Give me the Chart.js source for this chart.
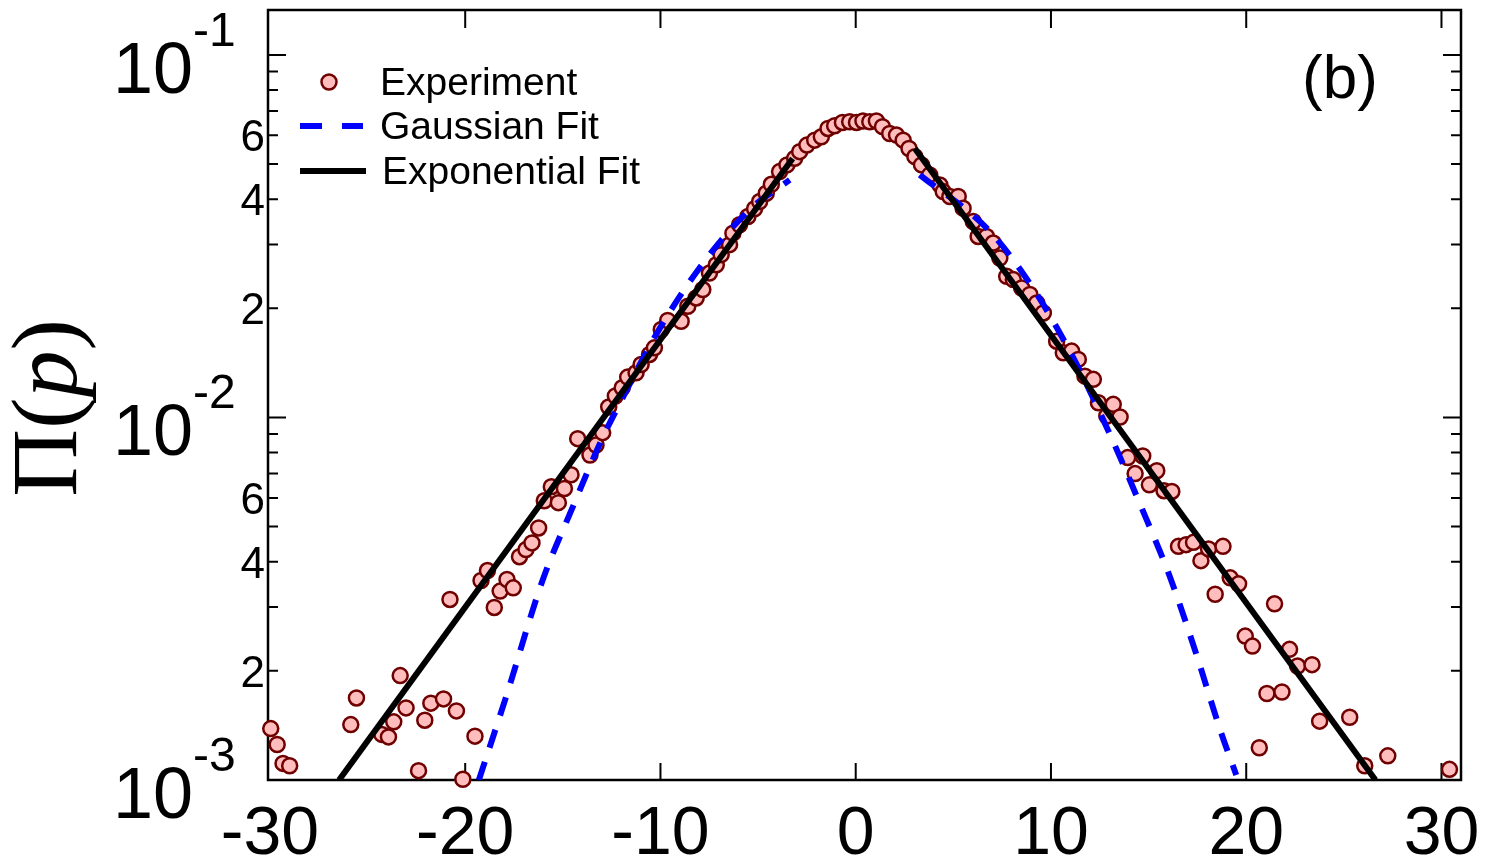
<!DOCTYPE html>
<html><head><meta charset="utf-8">
<script src="https://cdn.jsdelivr.net/npm/chart.js@4.4.1/dist/chart.umd.min.js"></script>
<style>html,body{margin:0;padding:0;background:#fff;} canvas{display:block;}</style>
</head><body>
<canvas id="c" width="1486" height="865" style="width:1486px;height:865px"></canvas>
<script>
// ---- Data ----
const expX = [-29.96,-29.63,-29.33,-28.99,-25.86,-25.57,-24.27,-23.93,-23.66,-23.33,-23.03,-22.39,-22.07,-21.76,-21.11,-20.78,-20.45,-20.12,-19.50,-19.19,-18.86,-18.51,-18.21,-17.86,-17.54,-17.22,-16.89,-16.58,-16.24,-15.95,-15.59,-15.23,-14.92,-14.58,-14.24,-13.61,-13.30,-12.96,-12.65,-12.31,-11.96,-11.68,-11.25,-10.99,-10.56,-10.31,-9.96,-9.63,-8.94,-8.60,-8.17,-7.83,-7.49,-7.14,-6.89,-6.46,-6.29,-5.95,-5.52,-5.18,-4.92,-4.58,-4.32,-3.90,-3.52,-3.13,-2.87,-2.50,-2.10,-1.76,-1.42,-1.08,-0.68,-0.31,0.04,0.37,0.72,1.06,1.37,1.74,2.09,2.43,2.73,3.03,3.37,3.79,4.31,4.48,4.82,5.25,5.50,6.02,6.27,6.70,7.04,7.38,7.73,8.07,8.50,8.92,9.27,9.61,10.29,10.63,11.06,11.40,11.74,12.17,12.43,12.86,13.19,13.54,13.93,14.31,14.70,15.04,15.42,15.79,16.19,16.53,16.92,17.30,17.68,18.07,18.41,18.81,19.18,19.61,19.95,20.32,20.67,21.06,21.45,21.83,22.22,22.63,23.37,23.76,25.30,26.07,27.25,30.41];
const expY = [1.386e-3,1.253e-3,1.111e-3,1.095e-3,1.422e-3,1.684e-3,1.336e-3,1.315e-3,1.447e-3,1.941e-3,1.581e-3,1.061e-3,1.462e-3,1.629e-3,1.674e-3,3.148e-3,1.551e-3,1.005e-3,1.321e-3,3.55e-3,3.782e-3,2.992e-3,3.319e-3,3.573e-3,3.388e-3,4.13e-3,4.32e-3,4.508e-3,4.957e-3,5.893e-3,6.44e-3,5.82e-3,6.37e-3,6.95e-3,8.74e-3,7.88e-3,8.39e-3,9.08e-3,1.069e-2,1.146e-2,1.208e-2,1.292e-2,1.328e-2,1.40e-2,1.492e-2,1.556e-2,1.748e-2,1.851e-2,1.842e-2,2.026e-2,2.136e-2,2.253e-2,2.502e-2,2.638e-2,2.812e-2,2.996e-2,3.224e-2,3.40e-2,3.583e-2,3.763e-2,3.941e-2,4.154e-2,4.396e-2,4.765e-2,4.972e-2,5.184e-2,5.41e-2,5.64e-2,5.82e-2,5.944e-2,6.268e-2,6.377e-2,6.512e-2,6.54e-2,6.512e-2,6.57e-2,6.54e-2,6.57e-2,6.34e-2,6.07e-2,6.01e-2,5.82e-2,5.52e-2,5.24e-2,4.972e-2,4.667e-2,4.38e-2,4.198e-2,4.068e-2,4.068e-2,3.778e-2,3.472e-2,3.157e-2,3.157e-2,3.027e-2,2.752e-2,2.45e-2,2.40e-2,2.275e-2,2.183e-2,2.069e-2,1.942e-2,1.623e-2,1.508e-2,1.524e-2,1.446e-2,1.30e-2,1.274e-2,1.098e-2,1.009e-2,1.087e-2,1.003e-2,7.75e-3,7.0e-3,7.83e-3,6.52e-3,7.13e-3,6.28e-3,6.25e-3,4.41e-3,4.458e-3,4.524e-3,4.028e-3,4.339e-3,3.254e-3,4.41e-3,3.611e-3,3.476e-3,2.494e-3,2.341e-3,1.227e-3,1.732e-3,3.062e-3,1.749e-3,2.293e-3,2.062e-3,2.08e-3,1.453e-3,1.49e-3,1.095e-3,1.166e-3,1.07e-3];

const gaussLX = [-19.30,-17.91,-16.04,-14.50,-12.96,-11.93,-10.22,-8.00,-5.44,-3.38];
const gaussLY = [1.0e-3,1.694e-3,3.55e-3,5.65e-3,8.8e-3,1.134e-2,1.694e-2,2.584e-2,3.74e-2,4.52e-2];
const gaussRX = [3.28,6.87,9.18,11.14,12.94,14.56,16.10,17.38,18.67,19.49];
const gaussRY = [4.667e-2,3.26e-2,2.228e-2,1.461e-2,9.18e-3,5.77e-3,3.624e-3,2.278e-3,1.373e-3,1.032e-3];

const expFitLX = [-26.46,-3.23];
const expFitLY = [1.0e-3,5.18e-2];
const expFitRX = [3.03,26.62];
const expFitRY = [5.52e-2,1.0e-3];

const xTickVals = [-30,-20,-10,0,10,20,30];
const xTickLabels = ['-30','-20','-10','0','10','20','30'];
const yDecades = [-3,-2,-1];
const yMinorLabelVals = [0.002,0.004,0.006,0.02,0.04,0.06];
const yMinorLabelText = ['2','4','6','2','4','6'];
const legendLabels = ['Experiment','Gaussian Fit','Exponential Fit'];
const panelLabel = '(b)';

// ---- Styles ----
const SANS = "'Liberation Sans', Arial, sans-serif";
const SERIF = "'Liberation Serif', 'Times New Roman', serif";
const PT_FILL = '#ffbdbd', PT_EDGE = '#700000';

const toPts = (xs, ys) => xs.map((v, i) => ({x: v, y: ys[i]}));

const decor = {
  id: 'decor',
  beforeDatasetsDraw(chart) {
    const {ctx, chartArea: a, scales: {x, y}} = chart;
    ctx.save();
    ctx.strokeStyle = '#000';
    ctx.lineWidth = 2.5;
    ctx.strokeRect(a.left, a.top, a.right - a.left, a.bottom - a.top);
    ctx.lineWidth = 2;
    ctx.beginPath();
    for (const v of xTickVals) {
      const px = x.getPixelForValue(v);
      if (px <= a.left + 2 || px >= a.right - 2) continue;
      ctx.moveTo(px, a.bottom); ctx.lineTo(px, a.bottom - 17);
      ctx.moveTo(px, a.top); ctx.lineTo(px, a.top + 18);
    }
    for (const d of yDecades) {
      for (let m = 1; m <= 9; m++) {
        const v = m * Math.pow(10, d);
        if (v <= y.min * 1.0001 || v > y.max) continue;
        const py = y.getPixelForValue(v);
        const len = m === 1 ? 18 : 10;
        ctx.moveTo(a.left, py); ctx.lineTo(a.left + len, py);
        ctx.moveTo(a.right, py); ctx.lineTo(a.right - len, py);
      }
    }
    ctx.stroke();
    ctx.restore();
  },
  afterDraw(chart) {
    const {ctx, chartArea: a, scales: {x, y}} = chart;
    ctx.save();
    ctx.fillStyle = '#000';
    // x tick labels
    ctx.font = `68px ${SANS}`;
    ctx.textAlign = 'center';
    ctx.textBaseline = 'alphabetic';
    xTickVals.forEach((v, i) => ctx.fillText(xTickLabels[i], x.getPixelForValue(v), 854));
    // y major labels
    for (const d of yDecades) {
      const py = y.getPixelForValue(Math.pow(10, d));
      ctx.font = `72px ${SANS}`;
      ctx.textAlign = 'right';
      ctx.fillText('10', 193, py + 38);
      ctx.font = `48px ${SANS}`;
      ctx.textAlign = 'left';
      ctx.fillText(String(d), 193, py - 9);
    }
    // y minor labels
    ctx.font = `44px ${SANS}`;
    ctx.textAlign = 'right';
    yMinorLabelVals.forEach((v, i) => ctx.fillText(yMinorLabelText[i], 265, y.getPixelForValue(v) + 16));
    // y title  Π(p)
    ctx.save();
    ctx.translate(76, 408);
    ctx.rotate(-Math.PI / 2);
    const parts = [['\u03A0(', `94px ${SERIF}`], ['p', `italic 94px ${SERIF}`], [')', `94px ${SERIF}`]];
    let total = 0;
    parts.forEach(p => { ctx.font = p[1]; total += ctx.measureText(p[0]).width; });
    let cx = -total / 2;
    ctx.textAlign = 'left';
    parts.forEach(p => { ctx.font = p[1]; ctx.fillText(p[0], cx, 0); cx += ctx.measureText(p[0]).width; });
    ctx.restore();
    // panel label
    ctx.font = `62px ${SANS}`;
    ctx.textAlign = 'center';
    ctx.fillText(panelLabel, 1340, 98);
    // legend
    ctx.font = `39px ${SANS}`;
    ctx.textAlign = 'left';
    ctx.beginPath();
    ctx.arc(329, 82, 7.5, 0, Math.PI * 2);
    ctx.fillStyle = PT_FILL; ctx.fill();
    ctx.lineWidth = 2.5; ctx.strokeStyle = PT_EDGE; ctx.stroke();
    ctx.fillStyle = '#000';
    ctx.fillText(legendLabels[0], 380, 95);
    ctx.lineWidth = 6;
    ctx.strokeStyle = '#0000ff';
    ctx.beginPath();
    ctx.moveTo(300, 126); ctx.lineTo(322, 126);
    ctx.moveTo(342, 126); ctx.lineTo(363, 126);
    ctx.stroke();
    ctx.fillText(legendLabels[1], 380, 139);
    ctx.strokeStyle = '#000';
    ctx.beginPath();
    ctx.moveTo(300, 171); ctx.lineTo(366, 171);
    ctx.stroke();
    ctx.fillText(legendLabels[2], 382, 184);
    ctx.restore();
  }
};

new Chart(document.getElementById('c'), {
  type: 'scatter',
  data: {
    datasets: [
      {label: 'Exponential Fit', data: toPts(expFitLX, expFitLY), showLine: true, borderColor: '#000', borderWidth: 6, pointRadius: 0, order: 1},
      {label: 'Exponential Fit R', data: toPts(expFitRX, expFitRY), showLine: true, borderColor: '#000', borderWidth: 6, pointRadius: 0, order: 1},
      {label: 'Gaussian Fit', data: toPts(gaussLX, gaussLY), showLine: true, borderColor: '#0000ff', borderWidth: 6, borderDash: [19, 15], pointRadius: 0, cubicInterpolationMode: 'monotone', order: 2},
      {label: 'Gaussian Fit R', data: toPts(gaussRX, gaussRY), showLine: true, borderColor: '#0000ff', borderWidth: 6, borderDash: [19, 15], pointRadius: 0, cubicInterpolationMode: 'monotone', order: 2},
      {label: 'Experiment', data: toPts(expX, expY), showLine: false, pointRadius: 7.5, pointBackgroundColor: PT_FILL, pointBorderColor: PT_EDGE, pointBorderWidth: 2.5, clip: false, order: 3}
    ]
  },
  options: {
    responsive: false,
    animation: false,
    events: [],
    layout: {padding: {top: 8, right: 25, left: 0, bottom: 0}},
    plugins: {legend: {display: false}, tooltip: {enabled: false}},
    scales: {
      x: {type: 'linear', min: -30.1, max: 31.0, ticks: {display: false}, grid: {display: false}, border: {display: false}, afterFit(s) { s.height = 85; }},
      y: {type: 'logarithmic', min: 0.001, max: 0.133, ticks: {display: false}, grid: {display: false}, border: {display: false}, afterFit(s) { s.width = 268; }}
    }
  },
  plugins: [decor]
});
</script>
</body></html>
